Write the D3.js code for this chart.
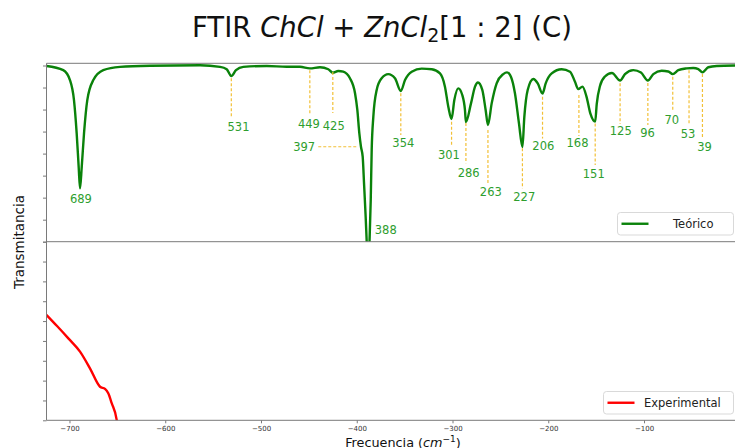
<!DOCTYPE html>
<html lang="en">
<head>
    <meta charset="UTF-8">
    <title>FTIR ChCl + ZnCl2 [1:2] (C)</title>
    <script src="https://cdn.jsdelivr.net/npm/d3@7"></script>
    <style>
        body {
            margin: 0;
            background-color: white;
            font-family: "DejaVu Sans", sans-serif;
        }
        .spine {
            stroke: #7a7a7a;
            stroke-width: 1;
        }
        .tick line {
            stroke: #7a7a7a;
        }
        .tick text {
            fill: #333;
        }
        .peaklbl {
            fill: #2e9e2e;
            font-size: 11.5px;
        }
    </style>
</head>
<body>
<svg id="chart" width="735" height="448"></svg>
<script>
    // theoretical spectrum (Teorico)
    let teoFreq = [-724, -706.5, -699.5, -695.3, -692.5, -690.4, -689, -687.2, -684.8, -681.4,
        -675.1, -664.7, -647.2, -615.9, -563.7, -542.8, -535.8, -531, -526.1, -518.5,
        -494, -473.2, -459.3, -449, -438.4, -429.7, -425, -419.3, -414.1, -407.1,
        -401.8, -399.4, -397.3, -395.6, -393.8, -392.4, -390.7, -389.6, -388, -386.7,
        -385.4, -384.4, -382.7, -379.2, -374, -367.1, -360.1, -354, -349.6, -342.6,
        -332.2, -321.7, -313.1, -307.9, -304.4, -301, -298.1, -294, -289.8, -287,
        -286, -280.7, -276.5, -273.4, -268.9, -265.4, -263, -259.1, -253.9, -247,
        -243.1, -238.9, -234.8, -230.6, -227, -225, -221.5, -215.6, -211, -206,
        -202.7, -196.4, -186, -177.3, -172.1, -168.7, -164.3, -160.1, -155.9, -151,
        -149.4, -146, -140.8, -133.5, -125, -119.9, -111.2, -103.2, -96, -90.3,
        -81.6, -74.7, -70, -64.2, -55.5, -48.6, -43.3, -39, -32.9, -24.1, -5]
    let teoVal = [7.98, 7.79, 7.34, 6.43, 4.93, 3.40, 2.42, 3.40, 4.93, 6.43,
        7.34, 7.79, 7.94, 7.99, 8.01, 7.94, 7.83, 7.52, 7.79, 7.94,
        7.98, 7.94, 7.94, 7.87, 7.92, 7.83, 7.67, 7.75, 7.72, 7.42,
        6.74, 5.98, 4.92, 4.31, 3.86, 2.65, 1.13, 0, -1.5, 0,
        1.89, 4.16, 5.67, 6.89, 7.42, 7.61, 7.42, 6.84, 7.34, 7.72,
        7.86, 7.83, 7.64, 7.04, 6.13, 5.57, 6.43, 6.96, 6.66, 5.98,
        5.43, 6.28, 7.04, 7.23, 6.89, 5.98, 5.30, 6.28, 7.19, 7.61,
        7.69, 7.48, 6.74, 5.37, 4.30, 5.67, 6.89, 7.39, 7.19, 6.73,
        7.19, 7.64, 7.83, 7.72, 7.26, 6.93, 7.04, 6.59, 5.80, 5.45,
        6.25, 7.07, 7.50, 7.66, 7.32, 7.61, 7.79, 7.68, 7.32, 7.61,
        7.76, 7.73, 7.61, 7.79, 7.87, 7.89, 7.84, 7.69, 7.92, 7.98, 8.00]

    // experimental spectrum (only the visible part)
    let expFreq = [-724, -713, -701.2, -689, -678.6, -668.1, -662.9, -659.5, -655.9, -650.7, -648.8]
    let expVal = [5.31, 4.75, 4.13, 3.46, 2.62, 1.69, 1.58, 1.36, 0.86, 0.02, -1.0]

    // peak annotations
    let peakText = ["689", "531", "449", "425", "397", "388", "354", "301", "286", "263",
        "227", "206", "168", "151", "125", "96", "70", "53", "39"]
    let peakLineTop = [null, 7.42, 7.79, 7.70, null, null, 6.74, 5.45, 5.39, 5.07,
        4.24, 6.58, 6.66, 5.37, 7.19, 7.20, 7.49, 7.79, 7.61]
    let peakLineBot = [null, 5.60, 5.83, 5.84, null, null, 4.84, 4.31, 3.56, 2.65,
        2.42, 4.69, 4.80, 3.48, 5.34, 5.30, 5.95, 5.30, 4.69]
    let labelFreq = [-688, -523.5, -449.9, -424, -454.9, -369.7, -351.4, -303.7, -283.1, -260,
        -225.1, -205.2, -169.5, -152.5, -124.3, -96.4, -71.1, -54.1, -36.9]
    let labelVal = [1.94, 5.22, 5.34, 5.25, 4.31, 0.53, 4.49, 3.94, 3.10, 2.27,
        2.04, 4.36, 4.47, 3.07, 5.02, 4.95, 5.52, 4.89, 4.31]
    // the 397 shoulder gets a horizontal leader
    let shoulderFrom = -440.2, shoulderTo = -398.4, shoulderVal = 4.31

    let xTicks = [-700, -600, -500, -400, -300, -200, -100]

    let svg = d3.select("#chart")
    let left = 46.5, right = 736, topY = 63.3, midY = 241.7, botY = 420.3

    let x = d3.scaleLinear().domain([-724, -5]).range([left, 735])
    let yTop = d3.scaleLinear().domain([0, 8.1]).range([midY, topY])
    let yBot = d3.scaleLinear().domain([0, 9]).range([botY, midY])

    let defs = svg.append("defs")
    defs.append("clipPath").attr("id", "clipTop")
        .append("rect").attr("x", left).attr("y", topY).attr("width", right - left).attr("height", midY - topY)
    defs.append("clipPath").attr("id", "clipBot")
        .append("rect").attr("x", left).attr("y", midY).attr("width", right - left).attr("height", botY - midY)

    // title
    let title = svg.append("text")
        .attr("x", 382).attr("y", 37)
        .attr("text-anchor", "middle")
        .attr("font-size", "27.5px")
        .attr("fill", "#111")
    title.append("tspan").text("FTIR ")
    title.append("tspan").attr("font-style", "italic").text("ChCl")
    title.append("tspan").text(" + ")
    title.append("tspan").attr("font-style", "italic").text("ZnCl")
    title.append("tspan").attr("font-size", "19px").attr("dy", 5).text("2")
    title.append("tspan").attr("dy", -5).text("[1 : 2] (C)")

    // y ticks (no labels)
    svg.append("g").attr("transform", `translate(${left},0)`)
        .call(d3.axisLeft(yTop).tickValues(d3.range(0, 9)).tickSize(3.5).tickFormat(""))
        .call(g => g.select(".domain").remove())
    svg.append("g").attr("transform", `translate(${left},0)`)
        .call(d3.axisLeft(yBot).tickValues(d3.range(0, 10)).tickSize(3.5).tickFormat(""))
        .call(g => g.select(".domain").remove())

    // x axis
    let xAxis = svg.append("g").attr("transform", `translate(0,${botY})`)
        .call(d3.axisBottom(x).tickValues(xTicks).tickSize(3)
            .tickFormat(d => "\u2212" + Math.abs(d)))
    xAxis.select(".domain").remove()
    xAxis.selectAll("text").attr("font-size", "7px").attr("font-family", "DejaVu Sans").attr("dy", "0.65em")

    // curves
    let teo = teoFreq.map((f, i) => [f, teoVal[i]])
    let exp = expFreq.map((f, i) => [f, expVal[i]])

    svg.append("path")
        .datum(teo)
        .attr("clip-path", "url(#clipTop)")
        .attr("fill", "none")
        .attr("stroke", "#0a820a")
        .attr("stroke-width", 2.4)
        .attr("stroke-linejoin", "round")
        .attr("d", d3.line().x(d => x(d[0])).y(d => yTop(d[1])).curve(d3.curveMonotoneX))

    svg.append("path")
        .datum(exp)
        .attr("clip-path", "url(#clipBot)")
        .attr("fill", "none")
        .attr("stroke", "#ff0000")
        .attr("stroke-width", 2.4)
        .attr("d", d3.line().x(d => x(d[0])).y(d => yBot(d[1])).curve(d3.curveMonotoneX))

    // leaders + labels
    let ann = svg.append("g")
    peakText.forEach((t, i) => {
        if (peakLineTop[i] !== null) {
            let px = x(-(+t))
            ann.append("line")
                .attr("x1", px).attr("x2", px)
                .attr("y1", yTop(peakLineTop[i])).attr("y2", yTop(peakLineBot[i]))
                .attr("stroke", "#f2c037").attr("stroke-width", 1.2)
                .attr("stroke-dasharray", "3,2")
        }
        ann.append("text")
            .attr("class", "peaklbl")
            .attr("x", x(labelFreq[i])).attr("y", yTop(labelVal[i]))
            .attr("text-anchor", "middle")
            .attr("dominant-baseline", "central")
            .text(t)
    })
    ann.append("line")
        .attr("x1", x(shoulderFrom)).attr("x2", x(shoulderTo))
        .attr("y1", yTop(shoulderVal)).attr("y2", yTop(shoulderVal))
        .attr("stroke", "#f2c037").attr("stroke-width", 1.2)
        .attr("stroke-dasharray", "3,2")

    // frames
    svg.append("line").attr("class", "spine").attr("x1", left).attr("x2", right).attr("y1", topY).attr("y2", topY)
    svg.append("line").attr("class", "spine").attr("x1", left).attr("x2", right).attr("y1", midY).attr("y2", midY)
    svg.append("line").attr("class", "spine").attr("x1", left).attr("x2", right).attr("y1", botY).attr("y2", botY)
    svg.append("line").attr("class", "spine").attr("x1", left).attr("x2", left).attr("y1", topY).attr("y2", botY)

    // legends
    function legend(x0, y0, w, h, color, label, textX) {
        let g = svg.append("g")
        g.append("rect").attr("x", x0).attr("y", y0).attr("width", w).attr("height", h)
            .attr("rx", 3).attr("fill", "white").attr("fill-opacity", 0.8)
            .attr("stroke", "#d9d9d9").attr("stroke-width", 1)
        g.append("line").attr("x1", x0 + 4).attr("x2", x0 + 31)
            .attr("y1", y0 + h / 2).attr("y2", y0 + h / 2)
            .attr("stroke", color).attr("stroke-width", 2.4)
        g.append("text").attr("x", textX).attr("y", y0 + h / 2)
            .attr("dominant-baseline", "central")
            .attr("font-size", "11.5px").attr("fill", "#222")
            .text(label)
    }
    legend(617.5, 212.5, 116, 22.5, "#0a820a", "Teórico", 673)
    legend(603.5, 391.5, 130, 22.5, "#ff0000", "Experimental", 644)

    // axis labels
    let xl = svg.append("text")
        .attr("x", 403).attr("y", 446.5)
        .attr("text-anchor", "middle")
        .attr("font-size", "12.8px").attr("fill", "#111")
    xl.append("tspan").text("Frecuencia (")
    xl.append("tspan").attr("font-style", "italic").text("cm")
    xl.append("tspan").attr("font-size", "9px").attr("dy", -5).text("\u22121")
    xl.append("tspan").attr("dy", 5).text(")")

    svg.append("text")
        .attr("transform", "translate(24,242) rotate(-90)")
        .attr("text-anchor", "middle")
        .attr("font-size", "13.5px").attr("fill", "#111")
        .text("Transmitancia")
</script>
</body>
</html>
